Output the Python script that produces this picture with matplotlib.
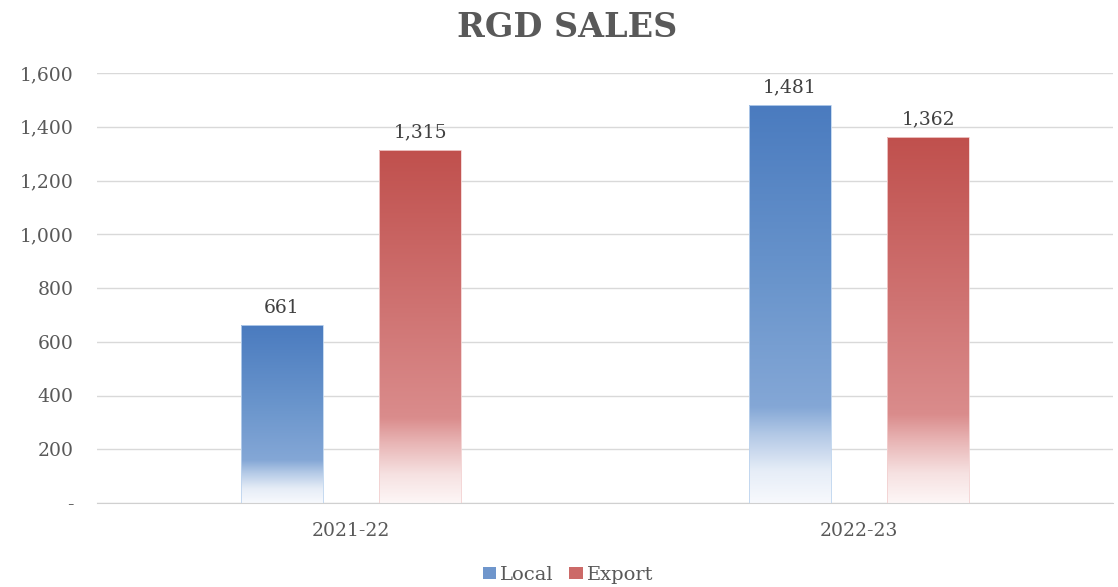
import numpy as np
import matplotlib.pyplot as plt
import matplotlib.patches as mpatches
import matplotlib.colors as mcolors
from matplotlib.ticker import FuncFormatter

years = ['2021-22', '2022-23']
local_sales = [661, 1481]
export_sales = [1315, 1362]

# gradient stops, bottom (0) -> top (1)
LOCAL_CMAP = mcolors.LinearSegmentedColormap.from_list('local', [
    (0.0, '#f7f9fd'), (0.08, '#e6edf7'), (0.17, '#b3c9e6'),
    (0.24, '#84a7d6'), (0.55, '#6a95cc'), (1.0, '#4a7bbf')])
EXPORT_CMAP = mcolors.LinearSegmentedColormap.from_list('export', [
    (0.0, '#fdf6f6'), (0.08, '#f6e1e1'), (0.17, '#e8b4b4'),
    (0.24, '#da8c8c'), (0.55, '#cf7372'), (1.0, '#c0504d')])

plt.rcParams['font.family'] = ['DejaVu Serif']
TEXT = '#595959'

fig = plt.figure(figsize=(11.18, 5.87), dpi=100)
ax = fig.add_axes([97 / 1118, 84 / 587, 1016 / 1118, 430 / 587])

x = np.arange(len(years))
w = 0.16
off = 0.136
grad = np.linspace(0, 1, 256).reshape(-1, 1)


def gradient_bars(xs, vals, cmap, edge):
    bars = ax.bar(xs, vals, width=w, facecolor='none', edgecolor=edge,
                  linewidth=0.6, zorder=3)
    for b in bars:
        x0, y0 = b.get_x(), b.get_y()
        im = ax.imshow(grad, cmap=cmap, origin='lower', aspect='auto',
                       extent=[x0, x0 + b.get_width(), y0, y0 + b.get_height()],
                       zorder=2, interpolation='bilinear')
        im.set_clip_path(b)
    for b, v in zip(bars, vals):
        ax.annotate(f'{v:,}', (b.get_x() + b.get_width() / 2, v),
                    xytext=(0, 6), textcoords='offset points',
                    ha='center', va='bottom', fontsize=13.5, color='#404040')
    return bars


gradient_bars(x - off, local_sales, LOCAL_CMAP, '#bcd3ee')
gradient_bars(x + off, export_sales, EXPORT_CMAP, '#f2d0d0')

ax.set_xlim(-0.5, 1.5)
ax.set_ylim(0, 1600)
ax.set_yticks(range(0, 1601, 200))
ax.yaxis.set_major_formatter(FuncFormatter(lambda v, p: '-' if v == 0 else f'{int(v):,}'))
ax.set_xticks(x)
ax.set_xticklabels(years)
ax.tick_params(length=0, labelsize=13.5, colors=TEXT)
ax.tick_params(axis='y', pad=17)
ax.tick_params(axis='x', pad=14)
ax.grid(axis='y', color='#d9d9d9', linewidth=1, zorder=0)
ax.set_axisbelow(True)
for s in ['top', 'right', 'left']:
    ax.spines[s].set_visible(False)
ax.spines['bottom'].set_color('#d0d0d0')

fig.text(0.507, 0.953, 'RGD SALES', ha='center', va='center',
         fontsize=24, fontweight='bold', color=TEXT)

handles = [mpatches.Patch(facecolor='#6f96cc', label='Local'),
           mpatches.Patch(facecolor='#cc6a68', label='Export')]
fig.legend(handles=handles, loc='center', bbox_to_anchor=(0.508, 0.021), ncol=2,
           frameon=False, fontsize=14, labelcolor=TEXT, handlelength=0.7,
           handleheight=0.6, handletextpad=0.2, columnspacing=0.8)

fig.savefig('out.png', dpi=100)
